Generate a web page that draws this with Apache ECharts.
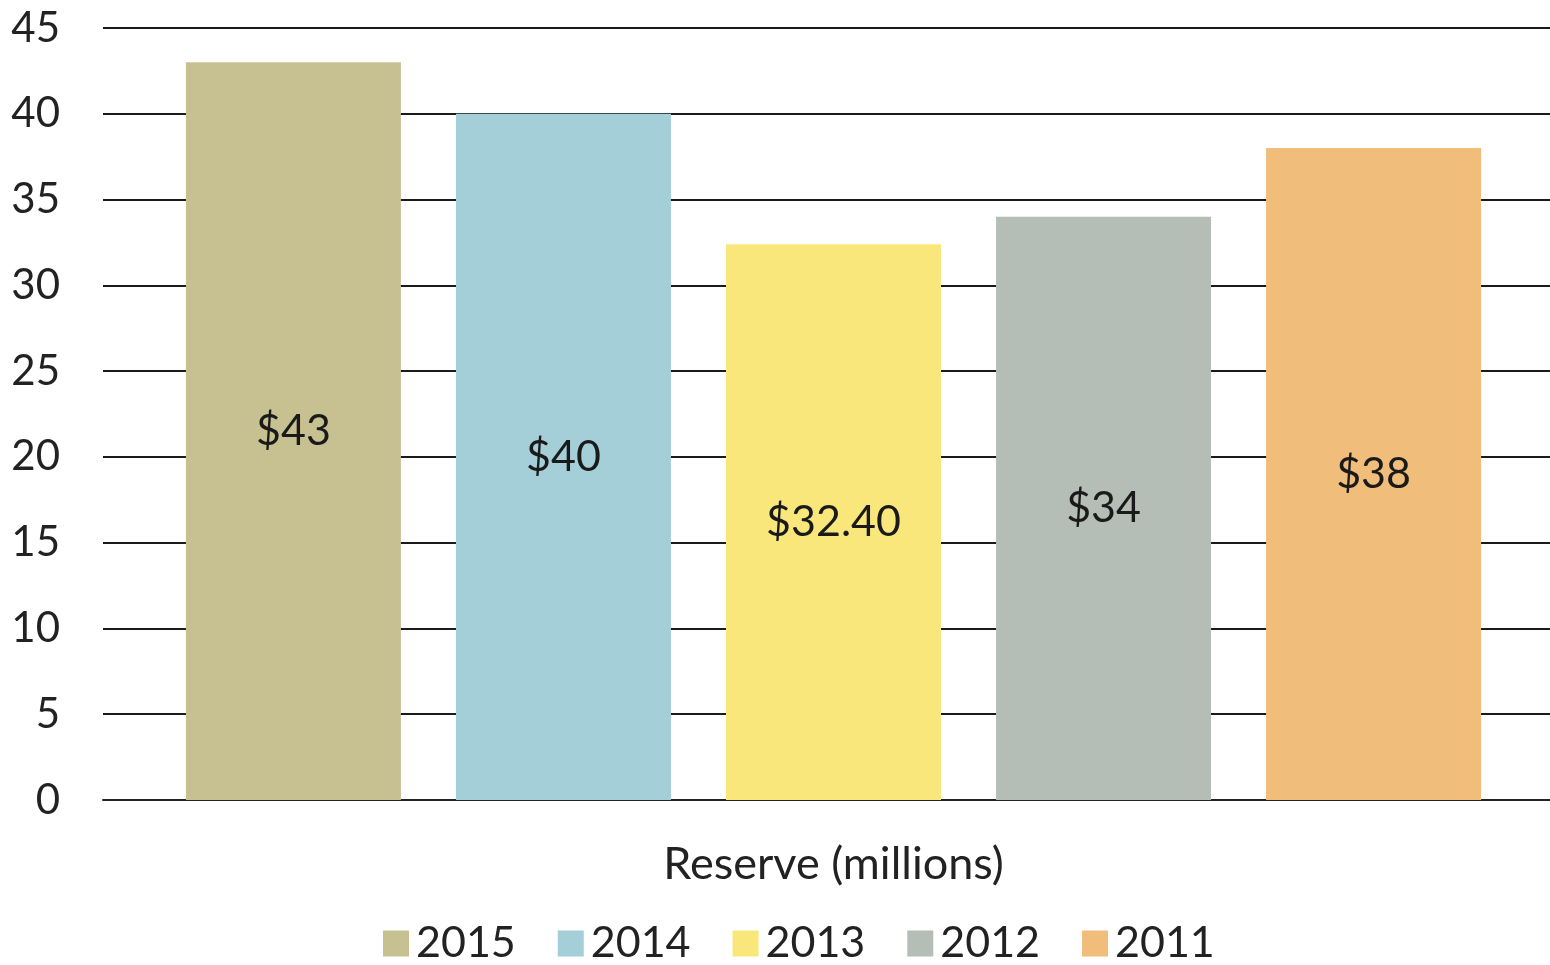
<!DOCTYPE html>
<html>
<head>
<meta charset="utf-8">
<title>Reserve (millions)</title>
<script src="https://cdn.jsdelivr.net/npm/echarts@6/dist/echarts.min.js"></script>
<style>
  html, body { margin: 0; padding: 0; background: #ffffff; }
  #chart { width: 1550px; height: 965px; }
</style>
</head>
<body>
<div id="chart"></div>
<script>
// Reserve by year, in millions of dollars
const categories = ['Reserve (millions)'];
const years = ['2015', '2014', '2013', '2012', '2011'];
const reserveValues = [43, 40, 32.4, 34, 38];
const valueLabels = ['$43', '$40', '$32.40', '$34', '$38'];
const yearColors = ['#c7c191', '#a4cfd8', '#fae77c', '#b4bdb6', '#f0bd7a'];
const yTicks = [0, 5, 10, 15, 20, 25, 30, 35, 40, 45];

const FONT = 'Lato, "Open Sans", sans-serif';

const series = years.map((year, i) => ({
  name: year,
  type: 'bar',
  data: [reserveValues[i]],
  barWidth: 215,
  barGap: '25.6%',
  itemStyle: { color: yearColors[i] },
  label: {
    show: true,
    position: 'inside',
    formatter: () => valueLabels[i],
    color: '#1a1a1a',
    fontFamily: FONT,
    fontSize: 43
  }
}));

const chart = echarts.init(document.getElementById('chart'), null, { renderer: 'canvas' });
chart.setOption({
  animation: false,
  backgroundColor: '#ffffff',
  grid: { left: 103, width: 1461, top: 28, bottom: 165, containLabel: false, outerBoundsMode: 'none' },
  xAxis: {
    type: 'category',
    data: categories,
    axisLine: { show: true, lineStyle: { color: '#222222', width: 2 } },
    axisTick: { show: false },
    axisLabel: {
      margin: 42,
      color: '#222222',
      fontFamily: FONT,
      fontSize: 45
    }
  },
  yAxis: {
    type: 'value',
    min: yTicks[0],
    max: yTicks[yTicks.length - 1],
    interval: yTicks[1] - yTicks[0],
    axisLine: { show: false },
    axisTick: { show: false },
    splitLine: { show: true, lineStyle: { color: '#1a1a1a', width: 2 } },
    axisLabel: {
      margin: 43,
      color: '#222222',
      fontFamily: FONT,
      fontSize: 42
    }
  },
  legend: {
    data: years,
    bottom: -5,
    left: 378,
    itemWidth: 26,
    itemHeight: 26,
    itemGap: 42,
    icon: 'rect',
    textStyle: {
      color: '#222222',
      fontFamily: FONT,
      fontSize: 43,
      padding: [0, 0, 0, 2]
    }
  },
  series: series
});
</script>
</body>
</html>
